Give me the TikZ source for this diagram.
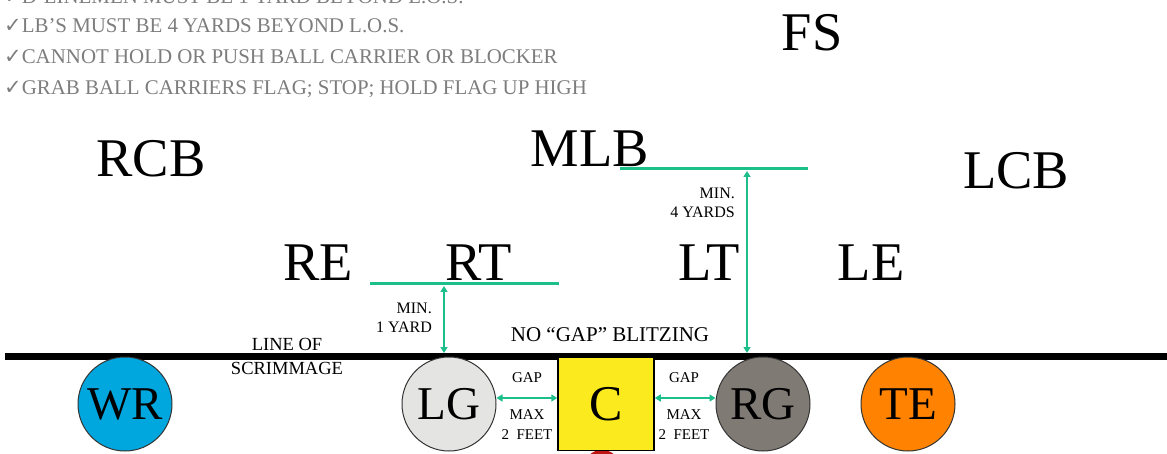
\documentclass[tikz,border=0pt]{standalone}
\usepackage{fontspec}
\setmainfont{Liberation Serif}
\newfontfamily\symfont{DejaVu Sans}
\usetikzlibrary{arrows.meta}
\definecolor{grn}{RGB}{28,190,138}
\definecolor{txtgray}{RGB}{125,125,125}
\definecolor{wrblue}{RGB}{0,166,222}
\definecolor{lggray}{RGB}{228,228,226}
\definecolor{rggray}{RGB}{128,122,117}
\definecolor{teorange}{RGB}{255,130,0}
\definecolor{cyellow}{RGB}{250,234,30}
\definecolor{ballred}{RGB}{190,20,20}
\tikzset{
  rule/.style={anchor=base west, inner sep=0, text=txtgray, font=\fontsize{20.9}{22}\selectfont},
  poslabel/.style={anchor=base, inner sep=0, font=\fontsize{54.5}{60}\selectfont},
  player/.style={circle, draw=black!80, line width=1pt, minimum size=94pt, inner sep=0, font=\fontsize{47}{50}\selectfont},
  note/.style={inner sep=0, align=center, font=\fontsize{15}{18}\selectfont},
  bar/.style={grn, line width=3pt},
  measure/.style={grn, line width=1.6pt, {Triangle[width=7pt,length=6pt]}-{Triangle[width=7pt,length=6pt]}},
}
\newcommand{\chk}{{\symfont\fontsize{21}{20}\selectfont ✓}}
\begin{document}
\begin{tikzpicture}[x=1pt,y=-1pt]
\useasboundingbox (0,0) rectangle (1167,454);
\clip (0,0) rectangle (1167,454);
% rules
\node[rule] (r1) at (4,4) {\chk D-LINEMEN MUST BE 1 YARD BEYOND L.O.S.};
\node[rule] (r2) at (4,33) {\chk LB'S MUST BE 4 YARDS BEYOND L.O.S.};
\node[rule] (r3) at (4,64) {\chk CANNOT HOLD OR PUSH BALL CARRIER OR BLOCKER};
\node[rule] (r4) at (4,95) {\chk GRAB BALL CARRIERS FLAG; STOP; HOLD FLAG UP HIGH};
% defense labels
\node[poslabel] (fs) at (812,51) {FS};
\node[poslabel] (rcb) at (151,177) {RCB};
\node[poslabel] (mlb) at (590,167) {MLB};
\node[poslabel] (lcb) at (1016,189) {LCB};
\node[poslabel] (re) at (318,281) {RE};
\node[poslabel] (rt) at (479,281) {RT};
\node[poslabel] (lt) at (709,281) {LT};
\node[poslabel] (le) at (871,281) {LE};
% line of scrimmage
\coordinate (losL) at (5,356);
\coordinate (losR) at (1167,356);
\draw[line width=7pt] (losL) -- (losR);
% ball
\fill[ballred] (602,461) ellipse (15 and 11);
% offense
\node[player, fill=wrblue] (wr) at (125,404) {WR};
\node[player, fill=lggray] (lg) at (449,404) {LG};
\node[player, fill=rggray] (rg) at (763,404) {RG};
\node[player, fill=teorange] (te) at (908,404) {TE};
\node[draw=black, line width=1.5pt, fill=cyellow, minimum width=96pt, minimum height=93pt, inner sep=0, font=\fontsize{50}{50}\selectfont] (c) at (606,404) {C};
% bars
\coordinate (mlbL) at (620,169);
\coordinate (mlbR) at (808,169);
\coordinate (rtL) at (370,284);
\coordinate (rtR) at (559,284);
\draw[bar] (mlbL) -- (mlbR);
\draw[bar] (rtL) -- (rtR);
% measures
\coordinate (m4top) at (747,171);
\coordinate (m4bot) at (747,353);
\coordinate (m1top) at (444,286);
\coordinate (m1bot) at (444,353);
\draw[measure] (m4top) -- (m4bot);
\draw[measure] (m1top) -- (m1bot);
\draw[measure] (lg.east |- 0,398) -- (c.west |- 0,398);
\draw[measure] (c.east |- 0,398) -- (rg.west |- 0,398);
% notes
\node[note, anchor=east, align=right, font=\fontsize{16}{19}\selectfont] (n1) at (432,318) {MIN.\\1 YARD};
\node[note, anchor=east, align=right, font=\fontsize{16}{19}\selectfont] (n4) at (735,203) {MIN.\\4 YARDS};
\node[note, font=\fontsize{21}{22}\selectfont] (ngap) at (610,335) {NO “GAP” BLITZING};
\node[note, font=\fontsize{18.5}{24}\selectfont] (los) at (287,356) {LINE OF\\SCRIMMAGE};
\node[note] (gapl) at (527,378) {GAP};
\node[note, font=\fontsize{15}{20}\selectfont] (maxl) at (527,425) {MAX\\2\ \ FEET};
\node[note] (gapr) at (684,378) {GAP};
\node[note, font=\fontsize{15}{20}\selectfont] (maxr) at (684,425) {MAX\\2\ \ FEET};
\end{tikzpicture}
\end{document}
